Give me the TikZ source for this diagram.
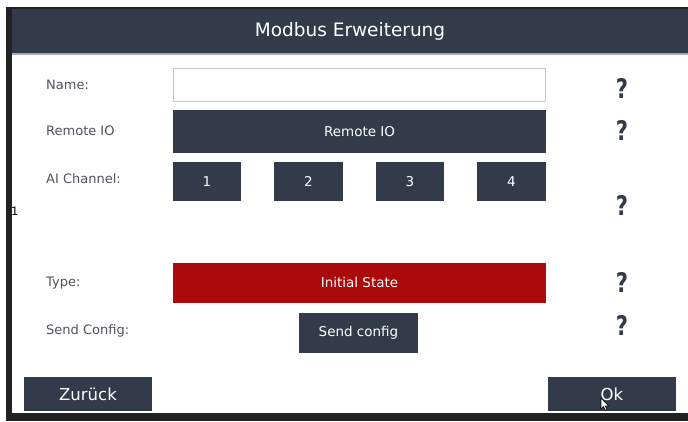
\documentclass[tikz,border=0pt]{standalone}
\usepackage{fontspec}
\setmainfont{DejaVu Sans}
\begin{document}
\begin{tikzpicture}[x=1pt,y=-1pt,
  btn/.style={fill=bgdark,draw=none,text=white,inner sep=0pt,font=\fontsize{13.5}{15}\selectfont},
  lbl/.style={anchor=west,inner sep=0pt,text=lblgray,font=\fontsize{13}{15}\selectfont},
  qm/.style={inner sep=0pt,text=bgdark,xscale=0.78,font=\fontsize{27}{29}\selectfont\bfseries},
  bigbtn/.style={fill=bgdark,draw=none,text=white,inner sep=0pt,font=\fontsize{16.5}{18}\selectfont}]
\definecolor{bgdark}{HTML}{333B4B}
\definecolor{lblgray}{HTML}{50545C}
\definecolor{redbar}{HTML}{AA0A0A}
\definecolor{frameblk}{HTML}{222222}
\definecolor{titleline}{HTML}{A0A8C0}
\useasboundingbox (0,0) rectangle (688,421);
\fill[white] (0,0) rectangle (688,421);
% window frame
\fill[frameblk] (6,7) rectangle (688,9);
\fill[frameblk] (6,7) rectangle (12,421);
\fill[frameblk] (6,413) rectangle (688,421);
% title bar
\fill[bgdark] (12,9) rectangle (688,53);
\fill[titleline] (12,53) rectangle (688,54.5);
\node[text=white,inner sep=0pt,font=\fontsize{18.5}{20}\selectfont] (title) at (350,31) {Modbus Erweiterung};
% labels
\node[lbl] (lname) at (46,85) {Name:};
\node[lbl] (lremote) at (46,131) {Remote IO};
\node[lbl] (lai) at (46,179) {AI Channel:};
\node[anchor=west,inner sep=0pt,text=black,font=\fontsize{11.5}{13}\selectfont] (one) at (11,211) {1};
\node[lbl] (ltype) at (46,283) {Type:};
\node[lbl] (lsend) at (46,331) {Send Config:};
% widgets
\node[draw=black!22,fill=white,line width=1pt,minimum width=372pt,minimum height=33pt,inner sep=0pt] (name) at (359.5,85) {};
\node[btn,minimum width=373pt,minimum height=43pt] (remote) at (359.5,131.5) {Remote IO};
\node[btn,minimum width=68pt,minimum height=39pt] (ch1) at (207,181.5) {1};
\node[btn,minimum width=69pt,minimum height=39pt] (ch2) at (308.5,181.5) {2};
\node[btn,minimum width=68pt,minimum height=39pt] (ch3) at (410,181.5) {3};
\node[btn,minimum width=69pt,minimum height=39pt] (ch4) at (511.5,181.5) {4};
\node[btn,fill=redbar,minimum width=373pt,minimum height=40pt] (type) at (359.5,282.5) {Initial State};
\node[btn,minimum width=119pt,minimum height=40pt] (send) at (358.5,333) {Send config};
\node[bigbtn,minimum width=128pt,minimum height=34pt] (back) at (88,394) {Zurück};
\node[bigbtn,minimum width=128pt,minimum height=34pt] (ok) at (612,394) {Ok};
% question marks
\node[qm] (q1) at (622,88) {?};
\node[qm] (q2) at (622,130) {?};
\node[qm] (q3) at (622,205) {?};
\node[qm] (q4) at (622,282) {?};
\node[qm] (q5) at (622,325) {?};
% mouse cursor
\filldraw[fill=white,draw=black,line width=0.6pt] (601,398) -- (601,409) -- (603.5,406.5) -- (605.5,410.5) -- (607,409.8) -- (605,405.8) -- (608.5,405.8) -- cycle;
\end{tikzpicture}
\end{document}
